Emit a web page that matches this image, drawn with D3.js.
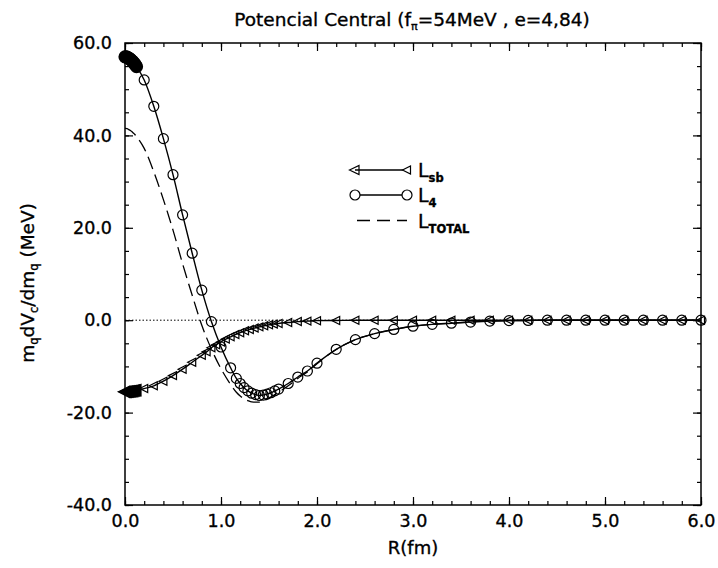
<!DOCTYPE html>
<html><head><meta charset="utf-8">
<script src="https://cdn.jsdelivr.net/npm/d3@7"></script>
<style>body{margin:0;background:#fff}svg{display:block}</style>
</head><body>
<script>
// ---- data ----
const rL4 = [0,0.01,0.02,0.03,0.04,0.05,0.06,0.07,0.08,0.09,0.10,0.11,0.12,0.2,0.3,0.4,0.5,0.6,0.7,0.8,0.9,1.0,1.1,1.16,1.2,1.24,1.28,1.32,1.36,1.4,1.44,1.48,1.52,1.56,1.6,1.7,1.8,1.9,2.0,2.2,2.4,2.6,2.8,3.0,3.2,3.4,3.6,3.8,4.0,4.2,4.4,4.6,4.8,5.0,5.2,5.4,5.6,5.8,6.0];
const vL4 = [57.0,57.0,56.95,56.85,56.7,56.55,56.4,56.2,56.0,55.75,55.5,55.2,54.9,52.0,46.3,39.3,31.5,22.8,14.5,6.5,-0.3,-5.8,-10.3,-12.6,-13.7,-14.6,-15.3,-15.8,-16.1,-16.3,-16.2,-16.0,-15.7,-15.3,-14.9,-13.7,-12.3,-11.0,-9.3,-6.3,-4.2,-2.9,-2.0,-1.3,-0.9,-0.65,-0.4,-0.2,-0.1,-0.05,0,0,0,0,0,0,0,0,0];
const rLsb = [0,0.01,0.02,0.03,0.04,0.05,0.06,0.07,0.08,0.09,0.10,0.11,0.12,0.2,0.3,0.4,0.5,0.6,0.7,0.8,0.85,0.9,0.95,1.0,1.05,1.1,1.15,1.2,1.25,1.3,1.35,1.4,1.45,1.5,1.55,1.6,1.7,1.8,1.9,2.0,2.2,2.4,2.6,2.8,3.0,3.2,3.4,3.6,3.8,4.0,4.2,4.4,4.6,4.8,5.0,5.2,5.4,5.6,5.8,6.0];
const vLsb = [-15.5,-15.5,-15.5,-15.47,-15.45,-15.42,-15.4,-15.37,-15.35,-15.3,-15.25,-15.2,-15.15,-14.8,-14.2,-13.2,-12.0,-10.6,-9.1,-7.6,-6.85,-5.95,-5.3,-4.7,-4.1,-3.6,-3.1,-2.7,-2.3,-2.0,-1.7,-1.45,-1.2,-1.0,-0.85,-0.7,-0.5,-0.3,-0.2,-0.1,-0.05,0,0,0,0,0,0,0,0,0,0,0,0,0,0,0,0,0,0,0];
const rTot = rL4;
const vTot = [41.5,41.5,41.45,41.38,41.25,41.13,41.0,40.83,40.65,40.45,40.25,40.0,39.75,37.2,32.1,26.1,19.5,12.2,5.4,-1.1,-6.25,-10.5,-13.9,-15.6,-16.4,-17.0,-17.4,-17.7,-17.75,-17.75,-17.45,-17.1,-16.65,-16.1,-15.6,-14.2,-12.6,-11.2,-9.4,-6.35,-4.2,-2.9,-2.0,-1.3,-0.9,-0.65,-0.4,-0.2,-0.1,-0.05,0,0,0,0,0,0,0,0,0];
const xTicks = [0,1,2,3,4,5,6];
const yTicks = [-40,-20,0,20,40,60];

const W = 718, H = 568;
const M = {l:125, r:701, t:43, b:505};
const FONT = "DejaVu Sans";

const svg = d3.select("body").append("svg").attr("width", W).attr("height", H)
  .style("font-family", FONT);

const x = d3.scaleLinear().domain([0,6]).range([M.l, M.r]);
const y = d3.scaleLinear().domain([-40,60]).range([M.b, M.t]);

// frame
svg.append("rect").attr("x", M.l).attr("y", M.t).attr("width", M.r-M.l).attr("height", M.b-M.t)
  .attr("fill","none").attr("stroke","#000").attr("stroke-width",1.5);

// ticks (inward) on all sides
const xMinor = d3.range(0, 6.0001, 0.2);
const yMinor = d3.range(-40, 60.0001, 5);
function axisTicks(axisGen, tr) {
  const g = svg.append("g").attr("transform", tr).call(axisGen);
  g.select(".domain").remove();
  g.selectAll("text").remove();
  g.selectAll("line").attr("stroke","#000").attr("stroke-width",1.2);
  return g;
}
axisTicks(d3.axisTop(x).tickValues(xMinor).tickSize(4), `translate(0,${M.b})`);
axisTicks(d3.axisTop(x).tickValues(xTicks).tickSize(8), `translate(0,${M.b})`);
axisTicks(d3.axisBottom(x).tickValues(xMinor).tickSize(4), `translate(0,${M.t})`);
axisTicks(d3.axisBottom(x).tickValues(xTicks).tickSize(8), `translate(0,${M.t})`);
axisTicks(d3.axisRight(y).tickValues(yMinor).tickSize(4), `translate(${M.l},0)`);
axisTicks(d3.axisRight(y).tickValues(yTicks).tickSize(8), `translate(${M.l},0)`);
axisTicks(d3.axisLeft(y).tickValues(yMinor).tickSize(4), `translate(${M.r},0)`);
axisTicks(d3.axisLeft(y).tickValues(yTicks).tickSize(8), `translate(${M.r},0)`);

const fmt = d => d.toFixed(1);
const heavy = sel => sel.attr("stroke","#000").attr("stroke-width",0.35);

// tick labels
const xl = svg.append("g").attr("transform", `translate(0,${M.b})`)
  .call(d3.axisBottom(x).tickValues(xTicks).tickSize(0).tickPadding(10).tickFormat(fmt));
xl.select(".domain").remove();
heavy(xl.selectAll("text").attr("font-family", FONT).attr("font-size", 17.5).attr("fill","#000"));
const yl = svg.append("g").attr("transform", `translate(${M.l},0)`)
  .call(d3.axisLeft(y).tickValues(yTicks).tickSize(0).tickPadding(13).tickFormat(fmt));
yl.select(".domain").remove();
heavy(yl.selectAll("text").attr("font-family", FONT).attr("font-size", 17.5).attr("fill","#000"));

// zero line (dotted)
svg.append("line").attr("x1", x(0)).attr("x2", x(6)).attr("y1", y(0)).attr("y2", y(0))
  .attr("stroke","#000").attr("stroke-width",1).attr("stroke-dasharray","1.5,2");

const line = d3.line().x(d => x(d[0])).y(d => y(d[1])).curve(d3.curveMonotoneX);
const dTot = rTot.map((r,i) => [r, vTot[i]]);
const dLsb = rLsb.map((r,i) => [r, vLsb[i]]);
const dL4 = rL4.map((r,i) => [r, vL4[i]]);
// markers crowded near r=0 merge into a solid blob in the original print
const mw = d => d[0] <= 0.12 ? 3.2 : 1.2;

// total dashed
svg.append("path").attr("d", line(dTot)).attr("fill","none").attr("stroke","#000")
  .attr("stroke-width",1.3).attr("stroke-dasharray","13,6");

// Lsb
svg.append("path").attr("d", line(dLsb)).attr("fill","none").attr("stroke","#000").attr("stroke-width",1.4);
const tri = "M-4.5,0 L3.5,-4 L3.5,4 Z";
svg.append("g").selectAll("path").data(dLsb).join("path")
  .attr("d", tri).attr("transform", d => `translate(${x(d[0])},${y(d[1])})`)
  .attr("fill","none").attr("stroke","#000").attr("stroke-width",mw);

// L4
svg.append("path").attr("d", line(dL4)).attr("fill","none").attr("stroke","#000").attr("stroke-width",1.4);
svg.append("g").selectAll("circle").data(dL4).join("circle")
  .attr("cx", d => x(d[0])).attr("cy", d => y(d[1])).attr("r", 5)
  .attr("fill", d => d[0] <= 0.12 ? "#000" : "none").attr("stroke","#000").attr("stroke-width",mw);

// legend
const lg = svg.append("g");
const lx1 = 355, lx2 = 407, tx = 418;
lg.append("line").attr("x1",lx1).attr("x2",lx2).attr("y1",170).attr("y2",170).attr("stroke","#000").attr("stroke-width",1.3);
lg.append("path").attr("d", "M-5.5,0 L4,-4.5 L4,4.5 Z").attr("transform",`translate(${lx1},170)`).attr("fill","none").attr("stroke","#000").attr("stroke-width",1.2);
lg.append("path").attr("d", tri).attr("transform",`translate(${lx2},170)`).attr("fill","#fff").attr("stroke","#000").attr("stroke-width",1.2);
lg.append("line").attr("x1",lx1).attr("x2",lx2).attr("y1",195).attr("y2",195).attr("stroke","#000").attr("stroke-width",1.3);
lg.append("circle").attr("cx",lx1).attr("cy",195).attr("r",5).attr("fill","#fff").attr("stroke","#000").attr("stroke-width",1.2);
lg.append("circle").attr("cx",lx2).attr("cy",195).attr("r",5).attr("fill","#fff").attr("stroke","#000").attr("stroke-width",1.2);
lg.append("line").attr("x1",lx1+2).attr("x2",lx2).attr("y1",220.5).attr("y2",220.5).attr("stroke","#000").attr("stroke-width",1.3).attr("stroke-dasharray","13,7");
const legItems = [["sb",170],["4",195],["TOTAL",220.5]];
legItems.forEach(([s,yy]) => {
  const t = lg.append("text").attr("x",tx).attr("y",yy+7).attr("font-size",19).attr("fill","#000");
  heavy(t);
  t.append("tspan").text("L");
  t.append("tspan").attr("dy",5).attr("font-size",11.5).attr("font-weight", "bold").text(s);
});

// title
const tt = svg.append("text").attr("x", 412).attr("y", 26).attr("text-anchor","middle")
  .attr("font-size",18.5).attr("fill","#000");
heavy(tt);
tt.append("tspan").text("Potencial Central (f");
tt.append("tspan").attr("dy",4).attr("font-size",11).text("π");
tt.append("tspan").attr("dy",-4).text("=54MeV , e=4,84)");

// x label
heavy(svg.append("text").attr("x", 413).attr("y", 554).attr("text-anchor","middle")
  .attr("font-size",18).attr("fill","#000").text("R(fm)"));

// y label
const yt = svg.append("text").attr("transform","translate(34,283) rotate(-90)")
  .attr("text-anchor","middle").attr("font-size",18.5).attr("fill","#000");
heavy(yt);
yt.append("tspan").text("m");
yt.append("tspan").attr("dy",4).attr("font-size",11.5).text("q");
yt.append("tspan").attr("dy",-4).text("dV");
yt.append("tspan").attr("dy",4).attr("font-size",11.5).text("c");
yt.append("tspan").attr("dy",-4).text("/dm");
yt.append("tspan").attr("dy",4).attr("font-size",11.5).text("q");
yt.append("tspan").attr("dy",-4).text(" (MeV)");
</script>
</body></html>
